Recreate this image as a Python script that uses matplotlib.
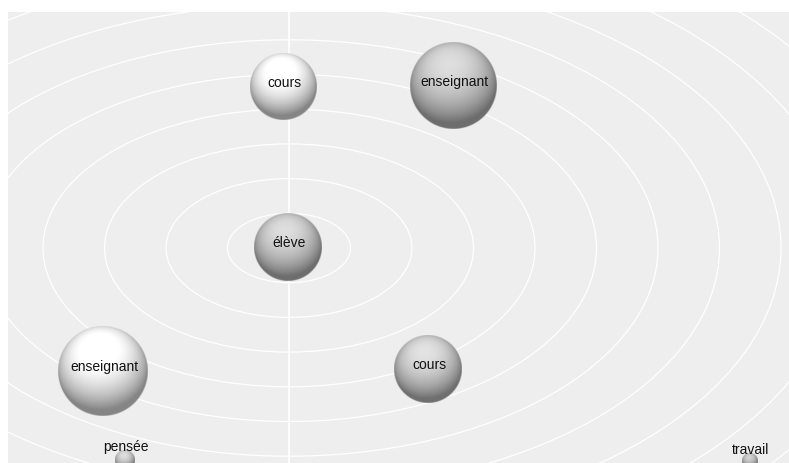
import numpy as np
import matplotlib
matplotlib.use("Agg")
import matplotlib.pyplot as plt
from matplotlib.patches import Ellipse

# ---- data (positions relative to map centre, sizes, shade) ----
labels = ["cours", "enseignant", "élève", "enseignant", "cours", "pensée", "travail"]
xs = [-6, 164, -1, -186, 139, -164, 461]
ys = [161, 162, 1, -123, -121, -212, -213]
radii = [33.5, 43.5, 34, 45, 34, 10, 8]
shade = [1.10, 0.90, 0.90, 1.10, 0.92, 0.90, 0.85]

ring_step_x = 61.5
ring_step_y = 34.7
n_rings = 11

W, H = 789, 463
fig = plt.figure(figsize=(W / 100, H / 100), dpi=100)
fig.patch.set_facecolor("white")
ax = fig.add_axes([8 / W, 0, 781 / W, 451 / H])
ax.set_facecolor("#eeeeee")
ax.set_xticks([])
ax.set_yticks([])
for s in ax.spines.values():
    s.set_visible(False)

# concentric rings
for k in range(1, n_rings + 1):
    ax.add_patch(Ellipse((0, 0), 2 * ring_step_x * k, 2 * ring_step_y * k,
                         fill=False, edgecolor="white", lw=0.9, zorder=1))
ax.axvline(0, color="white", lw=1.2, zorder=1)

# shaded spheres
L = np.array([-0.1, 0.5, 0.86])
L = L / np.linalg.norm(L)
N = 240
g = np.linspace(-1, 1, N)
gx, gy = np.meshgrid(g, g[::-1])
d2 = gx ** 2 + gy ** 2
nz = np.sqrt(np.clip(1 - d2, 0, 1))
dot = np.clip(gx * L[0] + gy * L[1] + nz * L[2], 0, 1)
inten = 0.50 + 0.52 * dot ** 1.1
for x, y, r, sh in zip(xs, ys, radii, shade):
    val = np.clip(inten * sh * 0.95, 0, 1)
    rgba = np.zeros((N, N, 4))
    rgba[..., 0] = val
    rgba[..., 1] = val
    rgba[..., 2] = val
    dist = np.sqrt(d2) * r
    rgba[..., 3] = np.clip(r - dist + 0.5, 0, 1)
    ax.imshow(rgba, extent=(x - r, x + r, y - r, y + r), zorder=3,
              interpolation="antialiased")

for lab, x, y, r in zip(labels, xs, ys, radii):
    dy = 4 if r > 20 else r + 3
    ax.text(x + 1, y + dy, lab, ha="center", va="center", fontsize=10,
            family=["Liberation Sans", "DejaVu Sans"], color="#111111", zorder=4)

ax.set_xlim(-281, 500)
ax.set_ylim(-215, 236)
ax.set_aspect("auto")
fig.savefig("out.png", dpi=100, facecolor="white")
